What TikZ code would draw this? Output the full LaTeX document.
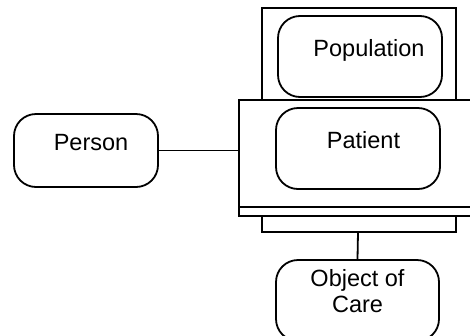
\documentclass[tikz,border=0pt]{standalone}
\usepackage{fontspec}
\setmainfont{Liberation Sans}
\begin{document}
\begin{tikzpicture}[
  x=1pt, y=-1pt,
  box/.style={draw, rounded corners=22pt, align=center, minimum width=164pt,
              minimum height=81pt, line width=1.8pt, inner sep=0pt,
              font=\fontsize{23.5}{26}\selectfont},
  oneline/.style={text height=16pt, text depth=16pt,
                  execute at begin node={\hspace*{#1}}},
  frame/.style={draw, line width=1.8pt, inner sep=0pt, outer sep=0pt},
  link/.style={line width=1.8pt},
]
\clip (0,0) rectangle (470,335);

% enclosing frames
\node[frame, minimum width=194pt, minimum height=92pt] (popframe) at (359,54) {};
\node[frame, minimum width=241pt, minimum height=107pt] (patframe) at (359.5,153.5) {};
\node[frame, minimum width=241pt, minimum height=9pt, anchor=north] (patstrip) at (patframe.south) {};

% classes
\node[box, oneline=18pt] (population) at (360,56.5) {Population};
\node[box, oneline=11pt] (patient) at (358,148.5) {Patient};
\node[box, oneline=10pt, minimum width=144pt, minimum height=73pt] (person) at (86,150.5) {Person};
\node[box, minimum width=163pt, text depth=19pt] (objcare) at (357.5,300.5) {Object of\\Care};

% bracket under the patient frame
\coordinate (brleft) at (262,216);
\coordinate (brright) at (456,216);
\coordinate (brmid) at (358,232);

\draw[link] (person.east) -- (person.east -| patframe.west);
\draw[link] (brleft) |- (brmid) -| (brright);
\draw[link] (brmid) -- (objcare.north);

\end{tikzpicture}
\end{document}
